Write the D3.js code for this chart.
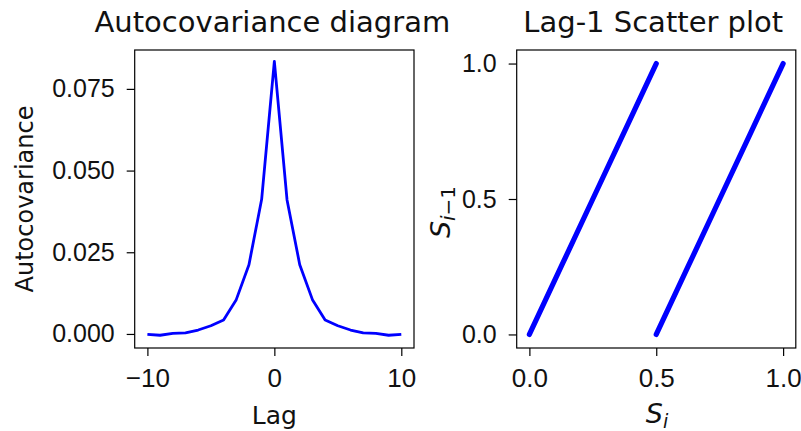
<!DOCTYPE html>
<html>
<head>
<meta charset="utf-8">
<script src="https://cdn.jsdelivr.net/npm/d3@7"></script>
<style>
  html, body { margin: 0; padding: 0; background: #ffffff; }
  svg { display: block; }
</style>
</head>
<body>
<svg id="chart" width="801" height="431"></svg>
<script>
// Autocovariance by lag
const lags = [-10, -9, -8, -7, -6, -5, -4, -3, -2, -1, 0, 1, 2, 3, 4, 5, 6, 7, 8, 9, 10];
const autocov = [-0.0001, -0.0004, 0.0002, 0.0003, 0.0012, 0.0025, 0.0043, 0.0105, 0.0212, 0.0412, 0.0834,
                 0.0410, 0.0212, 0.0105, 0.0043, 0.0025, 0.0012, 0.0003, 0.0002, -0.0004, -0.0001];

// Lag-1 pairs (S_i, S_{i-1}); the points run densely along two branches
const branchLowSi   = [0.00, 0.125, 0.25, 0.375, 0.50];
const branchLowPrev = [0.00, 0.25, 0.50, 0.75, 1.00];
const branchHighSi   = [0.50, 0.625, 0.75, 0.875, 1.00];
const branchHighPrev = [0.00, 0.25, 0.50, 0.75, 1.00];

// Tick values
const lagTicks = [-10, 0, 10];
const autocovTicks = [0.000, 0.025, 0.050, 0.075];
const unitTicks = [0.0, 0.5, 1.0];

const svg = d3.select("#chart");
const tickFont = "'Liberation Sans', Arial, sans-serif";
const textFont = "'DejaVu Sans', sans-serif";
const blue = "#0000ff";

function styleAxis(g, size) {
  g.select(".domain").remove();
  g.selectAll(".tick line").attr("stroke", "#000").attr("stroke-width", 1.2);
  g.selectAll(".tick text")
    .attr("fill", "#111")
    .style("font-family", tickFont)
    .style("font-size", size + "px");
}

// ---------- Left panel: autocovariance ----------
const L = { x0: 134.7, x1: 414, y0: 50, y1: 348 };
const xLag = d3.scaleLinear().domain([-11, 11]).range([L.x0, L.x1]);
const yCov = d3.scaleLinear().domain([-0.0043, 0.0869]).range([L.y1, L.y0]);

const left = svg.append("g");

left.append("path")
  .datum(lags.map((d, i) => [d, autocov[i]]))
  .attr("fill", "none")
  .attr("stroke", blue)
  .attr("stroke-width", 2.8)
  .attr("stroke-linejoin", "round")
  .attr("d", d3.line().x(d => xLag(d[0])).y(d => yCov(d[1])));

left.append("rect")
  .attr("x", L.x0).attr("y", L.y0)
  .attr("width", L.x1 - L.x0).attr("height", L.y1 - L.y0)
  .attr("fill", "none").attr("stroke", "#000").attr("stroke-width", 1.2);

left.append("g")
  .attr("transform", `translate(${L.x0},0)`)
  .call(d3.axisLeft(yCov).tickValues(autocovTicks).tickFormat(d3.format(".3f")).tickSize(8).tickPadding(12))
  .call(g => styleAxis(g, 25));

const lagAxis = left.append("g")
  .attr("transform", `translate(0,${L.y1})`)
  .call(d3.axisBottom(xLag).tickValues(lagTicks).tickFormat(d => d < 0 ? "\u2212" + Math.abs(d) : String(d)).tickSize(8))
  .call(g => styleAxis(g, 26));
lagAxis.selectAll(".tick text").attr("y", 38.5).attr("dy", 0);

left.append("text")
  .attr("x", (L.x0 + L.x1) / 2 - 2).attr("y", 31.5)
  .attr("text-anchor", "middle")
  .style("font-family", textFont).style("font-size", "29px").attr("fill", "#111")
  .text("Autocovariance diagram");

left.append("text")
  .attr("transform", `translate(33,${(L.y0 + L.y1) / 2}) rotate(-90)`)
  .attr("text-anchor", "middle")
  .style("font-family", textFont).style("font-size", "24px").attr("fill", "#111")
  .text("Autocovariance");

left.append("text")
  .attr("x", (L.x0 + L.x1) / 2).attr("y", 424)
  .attr("text-anchor", "middle")
  .style("font-family", textFont).style("font-size", "25px").attr("fill", "#111")
  .text("Lag");

// ---------- Right panel: lag-1 scatter ----------
const R = { x0: 516.7, x1: 795.8, y0: 50, y1: 348 };
const xS = d3.scaleLinear().domain([-0.05, 1.05]).range([R.x0, R.x1]);
const yS = d3.scaleLinear().domain([-0.05, 1.05]).range([R.y1, R.y0]);

const right = svg.append("g");

const branches = [
  branchLowSi.map((d, i) => [d, branchLowPrev[i]]),
  branchHighSi.map((d, i) => [d, branchHighPrev[i]])
];

right.selectAll("path.branch")
  .data(branches)
  .join("path")
  .attr("class", "branch")
  .attr("fill", "none")
  .attr("stroke", blue)
  .attr("stroke-width", 5.2)
  .attr("stroke-linecap", "round")
  .attr("d", d3.line().x(d => xS(d[0])).y(d => yS(d[1])));

right.append("rect")
  .attr("x", R.x0).attr("y", R.y0)
  .attr("width", R.x1 - R.x0).attr("height", R.y1 - R.y0)
  .attr("fill", "none").attr("stroke", "#000").attr("stroke-width", 1.2);

right.append("g")
  .attr("transform", `translate(${R.x0},0)`)
  .call(d3.axisLeft(yS).tickValues(unitTicks).tickFormat(d3.format(".1f")).tickSize(8).tickPadding(12))
  .call(g => styleAxis(g, 25));

const sAxis = right.append("g")
  .attr("transform", `translate(0,${R.y1})`)
  .call(d3.axisBottom(xS).tickValues(unitTicks).tickFormat(d3.format(".1f")).tickSize(8))
  .call(g => styleAxis(g, 26));
sAxis.selectAll(".tick text").attr("y", 38.5).attr("dy", 0);

right.append("text")
  .attr("x", (R.x0 + R.x1) / 2 - 3).attr("y", 32)
  .attr("text-anchor", "middle")
  .style("font-family", textFont).style("font-size", "29px").attr("fill", "#111")
  .text("Lag-1 Scatter plot");

// x label: S_i
const xl = right.append("text")
  .attr("x", 657).attr("y", 423)
  .attr("text-anchor", "middle")
  .style("font-family", textFont).style("font-size", "27px").style("font-style", "italic")
  .attr("fill", "#111");
xl.append("tspan").text("S");
xl.append("tspan").attr("dy", 5).style("font-size", "19px").text("i");

// y label: S_{i-1}
const yl = right.append("text")
  .attr("transform", `translate(450,212) rotate(-90)`)
  .attr("text-anchor", "middle")
  .style("font-family", textFont).style("font-size", "27px")
  .attr("fill", "#111");
yl.append("tspan").style("font-style", "italic").text("S");
yl.append("tspan").attr("dy", 5).style("font-size", "20px").style("font-style", "italic").text("i");
yl.append("tspan").style("font-size", "20px").text("\u22121");
</script>
</body>
</html>
